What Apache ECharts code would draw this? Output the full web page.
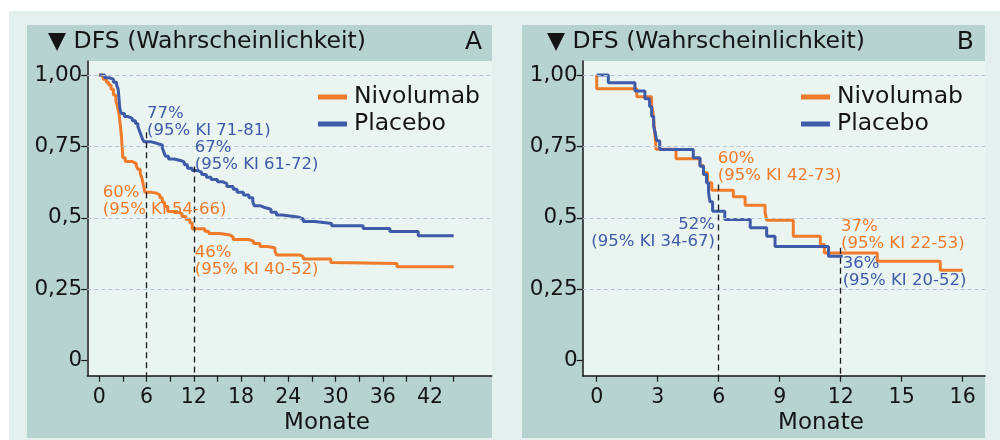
<!DOCTYPE html>
<html>
<head>
<meta charset="utf-8">
<script src="https://cdn.jsdelivr.net/npm/echarts@6/dist/echarts.min.js"></script>
<style>
  html, body { margin:0; padding:0; background:#ffffff; }
  #wrap { position:relative; width:1000px; height:440px; overflow:hidden; }
  .bg { position:absolute; }
  #chart { position:absolute; left:0; top:0; width:1000px; height:440px; }
</style>
</head>
<body>
<div id="wrap">
  <div class="bg" style="left:9px;top:11px;width:991px;height:429px;background:#e4f0ed;"></div>
  <div class="bg" style="left:27px;top:25px;width:465px;height:413px;background:#b7d3d0;"></div>
  <div class="bg" style="left:522px;top:25px;width:463px;height:413px;background:#b7d3d0;"></div>
  <div class="bg" style="left:87px;top:61px;width:405px;height:315px;background:#eaf4f1;"></div>
  <div class="bg" style="left:583px;top:61px;width:402px;height:315px;background:#eaf4f1;"></div>
  <div id="chart"></div>
</div>
<script>
// ---------------- data ----------------
const seriesNames = ['Nivolumab', 'Placebo'];
const headerText = '\u25BC DFS (Wahrscheinlichkeit)';
const panelLetters = ['A', 'B'];
const xAxisTitle = 'Monate';

const yTicks = [0, 0.25, 0.5, 0.75, 1];
const yTickLabels = ['0', '0,25', '0,5', '0,75', '1,00'];

const xTicksA = [0,3,6,9,12,15,18,21,24,27,30,33,36,39,42,45];
const xLabelValuesA = [0,6,12,18,24,30,36,42];
const xTicksB = [0,3,6,9,12,15,18];
const xTickLabelsB = ['0','3','6','9','12','15','16'];

// Panel A (months, DFS probability)
const nivoA = [[0,1.0],[0.5,0.985],[0.9,0.975],[1.2,0.965],[1.5,0.95],[1.8,0.93],[2.1,0.91],[2.3,0.89],[2.5,0.865],[2.65,0.83],[2.8,0.79],[2.9,0.75],[3.0,0.71],[3.3,0.697],[4.2,0.69],[4.7,0.682],[4.9,0.67],[5.2,0.655],[5.4,0.64],[5.6,0.615],[5.8,0.59],[6.5,0.586],[7.3,0.58],[7.7,0.57],[8.0,0.555],[8.3,0.54],[8.7,0.522],[9.8,0.515],[10.5,0.505],[11.0,0.495],[11.5,0.483],[11.8,0.462],[13.4,0.453],[13.9,0.445],[15.3,0.44],[16.6,0.433],[17.0,0.424],[19.0,0.418],[19.6,0.41],[20.4,0.4],[21.3,0.395],[22.3,0.385],[22.5,0.37],[25.5,0.364],[25.9,0.356],[29.4,0.344],[29.6,0.34],[37.8,0.329],[45.0,0.329]];
const placA = [[0,1.0],[0.7,0.99],[1.3,0.985],[1.8,0.975],[2.2,0.965],[2.4,0.95],[2.5,0.92],[2.6,0.885],[2.8,0.865],[3.2,0.855],[3.6,0.848],[4.2,0.84],[4.6,0.83],[4.9,0.82],[5.1,0.805],[5.3,0.79],[5.5,0.775],[5.7,0.766],[6.6,0.76],[7.4,0.755],[8.0,0.745],[8.2,0.73],[8.4,0.716],[8.8,0.706],[9.5,0.7],[10.4,0.695],[10.8,0.686],[11.2,0.674],[11.8,0.666],[12.4,0.66],[13.0,0.652],[13.6,0.642],[14.2,0.634],[15.0,0.626],[15.7,0.62],[16.2,0.61],[17.0,0.6],[17.5,0.59],[18.3,0.58],[19.0,0.57],[19.5,0.555],[19.7,0.542],[20.5,0.536],[21.0,0.53],[21.8,0.52],[22.5,0.51],[23.2,0.503],[25.2,0.496],[25.9,0.487],[27.4,0.48],[29.5,0.472],[33.5,0.463],[36.9,0.452],[40.5,0.437],[45.0,0.437]];

// Panel B
const nivoB = [[0,1.0],[0,0.952],[1.97,0.924],[2.7,0.895],[2.78,0.86],[2.83,0.82],[2.87,0.786],[2.92,0.74],[3.9,0.707],[5.08,0.683],[5.25,0.658],[5.45,0.623],[5.66,0.597],[6.72,0.574],[7.3,0.544],[8.28,0.52],[8.36,0.492],[9.67,0.436],[11.0,0.407],[11.2,0.377],[13.8,0.348],[16.9,0.317],[18.0,0.317]];
const placB = [[0,1.0],[0.57,0.973],[1.88,0.944],[2.37,0.917],[2.6,0.89],[2.7,0.856],[2.8,0.82],[2.87,0.80],[2.95,0.77],[3.1,0.739],[4.75,0.71],[5.08,0.681],[5.25,0.652],[5.4,0.623],[5.5,0.588],[5.57,0.556],[5.7,0.523],[6.3,0.494],[7.55,0.465],[8.36,0.436],[8.77,0.40],[11.4,0.366],[12.1,0.366]];

// landmark months and the top of the dashed guide lines
const landmarks = [6, 12];
const guideTopA = [0.80, 0.68];
const guideTopB = [0.617, 0.395];

// annotation texts: [panel, series, landmark, value, pct, ci]
const annotations = [
  [0, 1, 6, 0.766, '77%', '(95% KI 71-81)'],
  [0, 1, 12, 0.666, '67%', '(95% KI 61-72)'],
  [0, 0, 6, 0.586, '60%', '(95% KI 54-66)'],
  [0, 0, 12, 0.462, '46%', '(95% KI 40-52)'],
  [1, 0, 6, 0.597, '60%', '(95% KI 42-73)'],
  [1, 1, 6, 0.523, '52%', '(95% KI 34-67)'],
  [1, 0, 12, 0.377, '37%', '(95% KI 22-53)'],
  [1, 1, 12, 0.366, '36%', '(95% KI 20-52)']
];

// ---------------- styles / layout ----------------
const FONT = '"DejaVu Sans", "Open Sans", sans-serif';
const COLORS = ['#f07b2b', '#3f5aa8'];
const AXIS = '#161616';
const TEXT = '#141414';
const yMin = -0.0525, yMax = 1.049;
// annotation pixel offsets (dx, dy to top of text block, align)
const annOffsets = [
  [0.5, -37, 'left'],
  [1, -31, 'left'],
  [-43.8, -9, 'left'],
  [1, 16, 'left'],
  [-1, -40, 'left'],
  [-3.7, 5, 'right'],
  [0.3, -35, 'left'],
  [2, -1, 'left']
];

const chart = echarts.init(document.getElementById('chart'), null, {renderer: 'canvas', width: 1000, height: 440});

function xAxisCfg(gi, min, max, ticks, labelVals, labels) {
  return {
    gridIndex: gi, type: 'value', min: min, max: max,
    axisLine: {onZero: false, lineStyle: {color: AXIS, width: 1.5}},
    axisTick: {customValues: ticks, length: 6, lineStyle: {color: AXIS, width: 1.2}},
    axisLabel: {customValues: labelVals, fontFamily: FONT, fontSize: 20.5, color: TEXT, margin: 11,
      formatter: v => labels ? labels[labelVals.indexOf(v)] : String(v)},
    splitLine: {show: false}
  };
}
function yAxisCfg(gi) {
  return {
    gridIndex: gi, type: 'value', min: yMin, max: yMax,
    axisLine: {onZero: false, lineStyle: {color: AXIS, width: 1.5}},
    axisTick: {customValues: yTicks, length: 6, lineStyle: {color: AXIS, width: 1.2}},
    axisLabel: {customValues: yTicks, fontFamily: FONT, fontSize: 21.5, color: TEXT, margin: 5,
      formatter: v => yTickLabels[yTicks.indexOf(v)]},
    splitLine: {show: false}
  };
}
function gridLines(gi) {
  return {
    type: 'line', xAxisIndex: gi, yAxisIndex: gi, data: [], z: 1, silent: true,
    markLine: {silent: true, symbol: 'none', label: {show: false},
      lineStyle: {type: [4, 3], color: '#b3c3d3', width: 1},
      data: yTicks.filter(v => v > 0).map(v => ({yAxis: v}))}
  };
}
function guides(gi, tops) {
  return {
    type: 'line', xAxisIndex: gi, yAxisIndex: gi, data: [], z: 5, silent: true,
    markLine: {silent: true, symbol: 'none', label: {show: false},
      lineStyle: {type: [6, 4], color: '#1a1a1a', width: 1.3},
      data: landmarks.map((m, i) => [{coord: [m, tops[i]]}, {coord: [m, yMin]}])}
  };
}
function curve(gi, idx, data) {
  return {
    type: 'line', name: seriesNames[idx], xAxisIndex: gi, yAxisIndex: gi,
    step: 'end', showSymbol: false, data: data, z: 3,
    color: COLORS[idx],
    lineStyle: {color: COLORS[idx], width: 3}
  };
}
function legendCfg(left) {
  return {
    left: left, top: 80, orient: 'vertical', icon: 'rect',
    itemWidth: 29, itemHeight: 5, itemGap: 3,
    data: seriesNames,
    textStyle: {fontFamily: FONT, fontSize: 23.5, color: TEXT, padding: [0, 0, 0, 2]}
  };
}

const option = {
  animation: false,
  backgroundColor: 'transparent',
  grid: [
    {left: 87.3, top: 61, width: 404.4, height: 314.7},
    {left: 582.7, top: 61, width: 402.3, height: 314.7}
  ],
  xAxis: [
    xAxisCfg(0, -1.52, 49.83, xTicksA, xLabelValuesA, null),
    xAxisCfg(1, -0.69, 19.1, xTicksB, xTicksB, xTickLabelsB)
  ],
  yAxis: [yAxisCfg(0), yAxisCfg(1)],
  legend: [legendCfg(313), legendCfg(796)],
  series: [
    gridLines(0), gridLines(1),
    curve(0, 0, nivoA), curve(0, 1, placA),
    curve(1, 0, nivoB), curve(1, 1, placB),
    guides(0, guideTopA), guides(1, guideTopB)
  ]
};
chart.setOption(option);

// header texts and annotations
const graphics = [];
const headerX = [48, 547];
const letterRight = [482, 974];
[0, 1].forEach(p => {
  graphics.push({type: 'text', x: headerX[p], y: 42, style: {text: headerText, font: '23.5px ' + FONT, fill: TEXT, verticalAlign: 'middle', align: 'left'}});
  graphics.push({type: 'text', x: letterRight[p], y: 42, style: {text: panelLetters[p], font: '25px ' + FONT, fill: TEXT, verticalAlign: 'middle', align: 'right'}});
});
graphics.push({type: 'text', x: 327, y: 423, style: {text: xAxisTitle, font: '23px ' + FONT, fill: TEXT, verticalAlign: 'middle', align: 'center'}});
graphics.push({type: 'text', x: 821, y: 423, style: {text: xAxisTitle, font: '23px ' + FONT, fill: TEXT, verticalAlign: 'middle', align: 'center'}});

annotations.forEach((a, i) => {
  const pt = chart.convertToPixel({gridIndex: a[0]}, [a[2], a[3]]);
  const off = annOffsets[i];
  graphics.push({type: 'text', x: pt[0] + off[0], y: pt[1] + off[1], z: 10,
    style: {text: a[4] + '\n' + a[5], font: '16.5px ' + FONT, lineHeight: 17, fill: COLORS[a[1]], align: off[2], verticalAlign: 'top'}});
});
chart.setOption({graphic: graphics});
</script>
</body>
</html>
